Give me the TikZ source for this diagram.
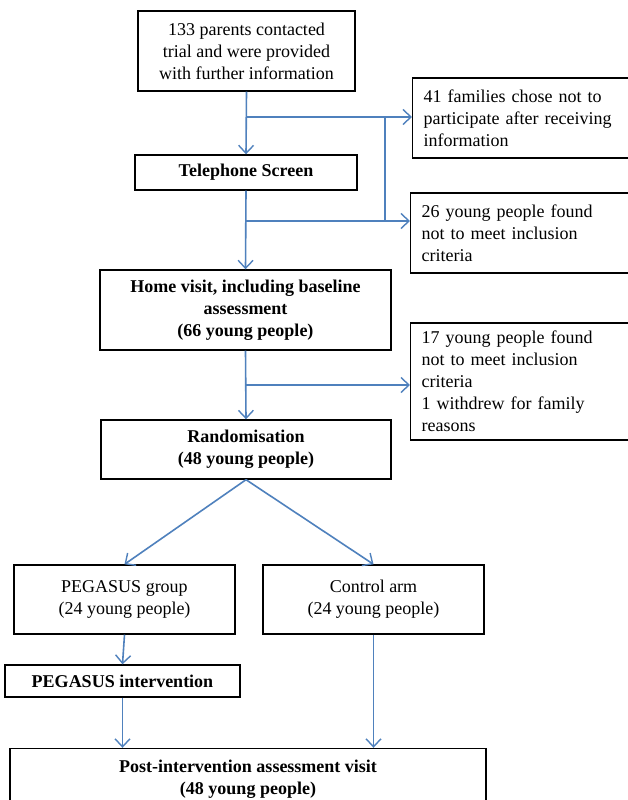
\documentclass[tikz,border=0pt]{standalone}
\usepackage{fontspec}
\setmainfont{Liberation Serif}
\usetikzlibrary{arrows.meta}
\definecolor{flowblue}{RGB}{79,129,189}
\newcommand{\flowfont}{\fontsize{18}{22}\selectfont}
\tikzset{
	box/.style={draw, line width=1.4pt, inner sep=0pt, align=center, font=\flowfont},
	sidebox/.style={box, align=left, inner xsep=11pt, anchor=west},
	flow/.style={draw=flowblue, line width=1.6pt, -{Straight Barb[length=8pt,width=15pt,line width=1.4pt]}},
	flowline/.style={draw=flowblue, line width=1.6pt}
}

\begin{document}
\begin{tikzpicture}[x=1pt, y=-1pt]

					\clip (0,0) rectangle (628,800);
					\fill[white] (0,0) rectangle (628,800);

					\node[box, minimum width=217pt, minimum height=80pt] (parents) at (246.5,51) {133 parents contacted\\trial and were provided\\with further information};
					\node[box, minimum width=222pt, minimum height=35pt, font=\flowfont\bfseries] (phone) at (246,172.5) {Telephone Screen};
					\node[box, minimum width=291pt, minimum height=80pt, font=\flowfont\bfseries] (home) at (245.5,310) {Home visit, including baseline\\assessment\\(66 young people)};
					\node[box, minimum width=290pt, minimum height=59pt, font=\flowfont\bfseries] (rand) at (246,449.5) {Randomisation\\(48 young people)};

					\node[sidebox, text width=230pt, minimum height=80pt] (declined) at (412,118) {41 families chose not to\\participate after receiving\\information};
					\node[sidebox, text width=232pt, minimum height=80pt] (screenout) at (410,233) {26 young people found\\not to meet inclusion\\criteria};
					\node[sidebox, text width=232pt, minimum height=117pt] (visitout) at (410,381.5) {17 young people found\\not to meet inclusion\\criteria\\1 withdrew for family\\reasons};

					\node[box, minimum width=221pt, minimum height=69pt] (pgroup) at (124.5,599.5) {PEGASUS group\\(24 young people)};
					\node[box, minimum width=221pt, minimum height=69pt] (control) at (373.5,599.5) {Control arm\\(24 young people)};
					\node[box, minimum width=235pt, minimum height=32pt, font=\flowfont\bfseries] (pint) at (122.5,681) {PEGASUS intervention};
					\node[box, minimum width=476pt, minimum height=62pt, font=\flowfont\bfseries] (post) at (248,779.5) {Post-intervention assessment visit\\(48 young people)};

					\coordinate (split1) at (246,117);
					\coordinate (split2) at (246,221);
					\coordinate (split3) at (246,385);
					\coordinate (join) at (385,117);
					\coordinate (join2) at (385,221);

					\draw[flow] (parents.south) -- (phone.north);
					\draw[flow] (phone.south) -- (home.north);
					\draw[flow] (home.south) -- (rand.north);
					\draw[flow] (split1) -- (split1 -| declined.west);
					\draw[flow] (split2) -- (split2 -| screenout.west);
					\draw[flowline] (join) -- (join2);
					\draw[flow] (split3) -- (split3 -| visitout.west);

					\draw[flow] (rand.south) -- (pgroup.north);
					\draw[flow] (rand.south) -- (control.north);
					\draw[flow] (pgroup.south) -- (pint.north);
					\draw[flow] (pint.south) -- (pint.south |- post.north);
					\draw[flow] (control.south) -- (control.south |- post.north);

\end{tikzpicture}
\end{document}
